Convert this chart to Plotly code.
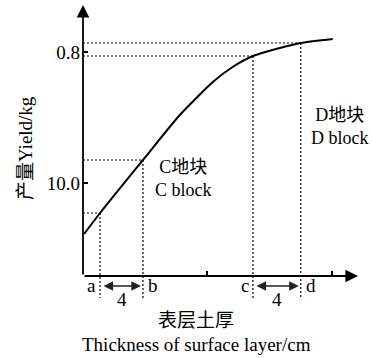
import plotly.graph_objects as go

# ---- data (arbitrary schematic units) ----
curve_x = [0.1, 1.55, 5.45, 8.8, 10.4, 11.8, 13.6, 15.45, 17.9, 19.8, 22.7]
curve_y = [4.2, 6.3, 11.6, 16.1, 17.9, 19.4, 20.9, 22.0, 22.8, 23.3, 23.7]

mark_names = ["a", "b", "c", "d"]
mark_x = [1.55, 5.45, 15.45, 19.8]
mark_y = [6.3, 11.6, 22.0, 23.3]

y_tick_vals = [9.3, 22.4]
y_tick_text = ["10.0", "0.8"]
x_tick_vals = [11.3, 22.6]

gap_label = "4"
region_labels = [("C地块", "C block", 9.1, 9.75), ("D地块", "D block", 23.4, 15.0)]

x_title_cn = "表层土厚"
x_title_en = "Thickness of surface layer/cm"
y_title = "产量Yield/kg"

X_MAX, Y_MIN, Y_MAX = 25.0, -2.4, 27.1

FONT = "Liberation Serif, Times New Roman, Noto Sans CJK SC, serif"
fs = 19

fig = go.Figure()
fig.add_trace(go.Scatter(x=curve_x, y=curve_y, mode="lines",
                         line=dict(color="black", width=2, shape="spline", smoothing=0.8),
                         hoverinfo="skip", showlegend=False))

dash = "2px,2px"
shapes = []
for mx, my in zip(mark_x, mark_y):
    shapes.append(dict(type="line", xref="x", yref="y", x0=0, x1=mx, y0=my, y1=my,
                       line=dict(color="black", width=1.2, dash=dash)))
    shapes.append(dict(type="line", xref="x", yref="y", x0=mx, x1=mx, y0=my, y1=-2.2,
                       line=dict(color="black", width=1.2, dash=dash)))

ann = []
# axes arrows
ann.append(dict(x=X_MAX, y=0, ax=0, ay=0, xref="x", yref="y", axref="x", ayref="y",
                text="", showarrow=True, arrowhead=2, arrowsize=1.4, arrowwidth=1.8,
                arrowcolor="black", standoff=0))
ann.append(dict(x=0, y=Y_MAX, ax=0, ay=0, xref="x", yref="y", axref="x", ayref="y",
                text="", showarrow=True, arrowhead=2, arrowsize=1.4, arrowwidth=1.8,
                arrowcolor="black", standoff=0))

# mark letters and double arrows
for i, (n, mx) in enumerate(zip(mark_names, mark_x)):
    left = i % 2 == 0
    ann.append(dict(x=mx, y=-0.9, xref="x", yref="y", text=n, showarrow=False,
                    xanchor="right" if left else "left", xshift=-2 if left else 3,
                    font=dict(family=FONT, size=fs, color="black")))
for i in (0, 2):
    x0, x1 = mark_x[i], mark_x[i + 1]
    ann.append(dict(x=x1, y=-1.0, ax=x0, ay=-1.0, xref="x", yref="y", axref="x", ayref="y",
                    text="", showarrow=True, arrowhead=2, startarrowhead=2, arrowside="end+start",
                    arrowsize=1.2, startarrowsize=1.2, arrowwidth=1.6, arrowcolor="#222",
                    standoff=2, startstandoff=2))
    ann.append(dict(x=(x0 + x1) / 2, y=-2.3, xref="x", yref="y", text=gap_label, showarrow=False,
                    font=dict(family=FONT, size=fs, color="black")))

for cn, en, lx, ly in region_labels:
    ann.append(dict(x=lx, y=ly, xref="x", yref="y", text=f"{cn}<br>{en}", showarrow=False,
                    align="center", font=dict(family=FONT, size=18, color="black")))

# titles
ann.append(dict(x=0.411, y=0, xref="paper", yref="paper", yshift=-20, text=x_title_cn,
                showarrow=False, yanchor="middle", font=dict(family=FONT, size=fs, color="black")))
ann.append(dict(x=0.411, y=0, xref="paper", yref="paper", yshift=-44, text=x_title_en,
                showarrow=False, yanchor="middle", font=dict(family=FONT, size=fs, color="black")))
ann.append(dict(x=0, y=0.515, xref="paper", yref="paper", xshift=-58, text=y_title,
                textangle=-90, showarrow=False, xanchor="center", yanchor="middle",
                font=dict(family=FONT, size=fs, color="black")))

fig.update_layout(
    width=372, height=358,
    margin=dict(l=83, r=14, t=5, b=58),
    plot_bgcolor="white", paper_bgcolor="white",
    shapes=shapes, annotations=ann,
    xaxis=dict(range=[0, X_MAX], showgrid=False, zeroline=False, showline=False,
               anchor="free", position=(0 - Y_MIN) / (Y_MAX - Y_MIN),
               tickvals=x_tick_vals, ticks="inside", ticklen=5, tickwidth=1.5,
               tickcolor="black", showticklabels=False),
    yaxis=dict(range=[Y_MIN, Y_MAX], showgrid=False, zeroline=False, showline=False,
               tickvals=y_tick_vals, ticktext=y_tick_text, ticks="inside", ticklen=5,
               tickwidth=1.5, tickcolor="black", ticklabelstandoff=2,
               tickfont=dict(family=FONT, size=fs, color="black")),
)

fig.write_html("out.html", config={"displayModeBar": False},
               post_script="document.body.style.margin='0';document.body.style.overflow='hidden';")
